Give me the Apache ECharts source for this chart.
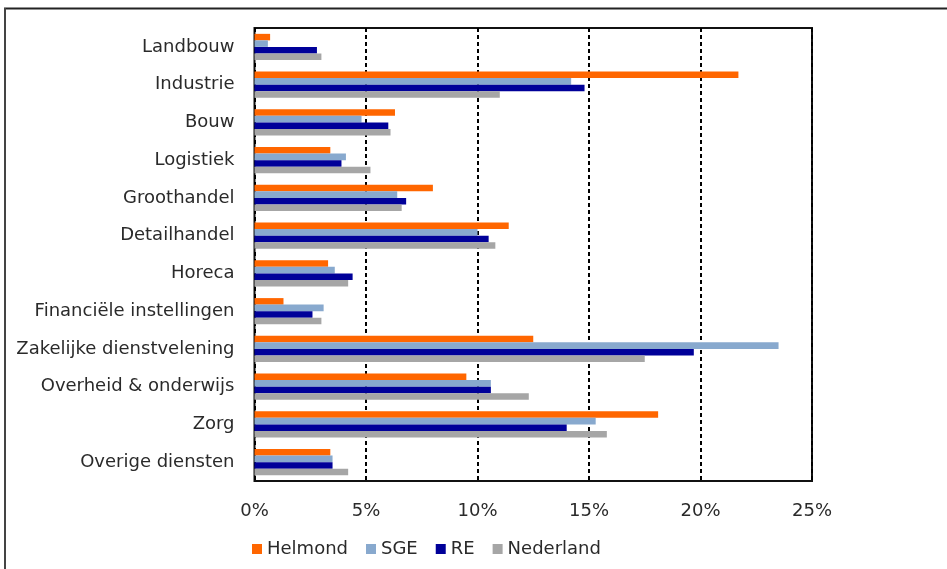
<!DOCTYPE html>
<html>
<head>
<meta charset="utf-8">
<script src="https://cdn.jsdelivr.net/npm/echarts@6/dist/echarts.min.js"></script>
<style>html,body{margin:0;padding:0;background:#fff}#c{width:947px;height:569px}</style>
</head>
<body>
<div id="c"></div>
<script>
var categories = ["Landbouw","Industrie","Bouw","Logistiek","Groothandel","Detailhandel","Horeca","Financiële instellingen","Zakelijke dienstvelening","Overheid & onderwijs","Zorg","Overige diensten"];
var helmond   = [0.7, 21.7, 6.3, 3.4, 8.0, 11.4, 3.3, 1.3, 12.5, 9.5, 18.1, 3.4];
var sge       = [0.6, 14.2, 4.8, 4.1, 6.4, 10.0, 3.6, 3.1, 23.5, 10.6, 15.3, 3.5];
var re        = [2.8, 14.8, 6.0, 3.9, 6.8, 10.5, 4.4, 2.6, 19.7, 10.6, 14.0, 3.5];
var nederland = [3.0, 11.0, 6.1, 5.2, 6.6, 10.8, 4.2, 3.0, 17.5, 12.3, 15.8, 4.2];
var xTicks = [0, 5, 10, 15, 20, 25];

var font = "DejaVu Sans";
var txt = "#2a2a2a";
var chart = echarts.init(document.getElementById('c'), null, {renderer: 'canvas'});
function s(name, data, color) {
  return {name: name, type: 'bar', data: data, barGap: '0%', barCategoryGap: '31%',
    itemStyle: {color: color}, animation: false};
}
chart.setOption({
  animation: false,
  textStyle: {fontFamily: font},
  graphic: [
    {type: 'line', shape: {x1: 4, y1: 8.5, x2: 947, y2: 8.5}, style: {stroke: '#222', lineWidth: 2}},
    {type: 'line', shape: {x1: 5, y1: 8, x2: 5, y2: 569}, style: {stroke: '#444', lineWidth: 2}}
  ],
  grid: {left: 254.5, right: 135, top: 28, bottom: 88, show: true, borderColor: '#111', borderWidth: 2, containLabel: false},
  legend: {
    left: 247, top: 535, icon: 'rect', itemWidth: 10, itemHeight: 10, itemGap: 18,
    textStyle: {fontFamily: font, fontSize: 18, color: txt},
    data: ['Helmond', 'SGE', 'RE', 'Nederland']
  },
  xAxis: {
    type: 'value', min: xTicks[0], max: xTicks[xTicks.length - 1], interval: 5,
    axisLine: {show: false}, axisTick: {show: false},
    axisLabel: {formatter: '{value}%', fontFamily: font, fontSize: 18, color: txt, margin: 21},
    splitLine: {show: true, lineStyle: {color: '#000', width: 2, type: [4, 3]}}
  },
  yAxis: {
    type: 'category', data: categories, inverse: true,
    axisLine: {show: false}, axisTick: {show: false}, splitLine: {show: false},
    axisLabel: {fontFamily: font, fontSize: 18, color: txt, margin: 20}
  },
  series: [
    s('Helmond', helmond, '#FF6600'),
    s('SGE', sge, '#88A9CE'),
    s('RE', re, '#000099'),
    s('Nederland', nederland, '#A6A6A6')
  ]
});
</script>
</body>
</html>
